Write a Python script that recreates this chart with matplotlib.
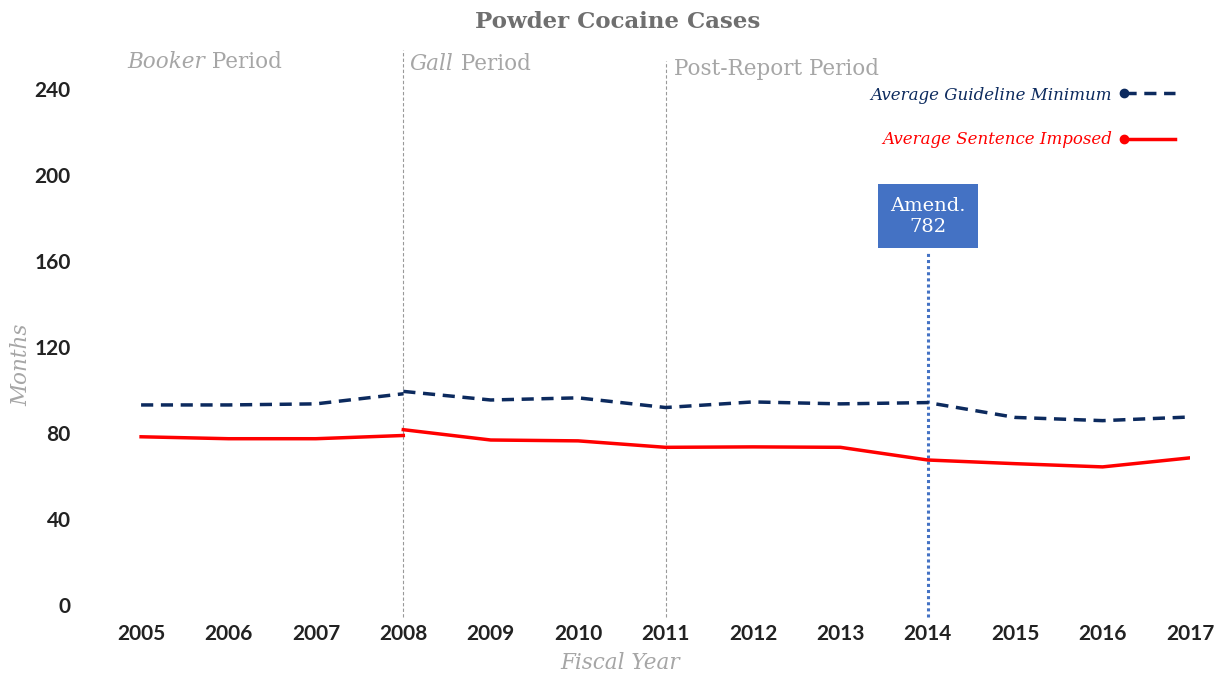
import matplotlib.pyplot as plt

# Fiscal years and values (months), split at period boundaries
years_booker = [2005, 2006, 2007, 2008]
years_rest = [2008, 2009, 2010, 2011, 2012, 2013, 2014, 2015, 2016, 2017]

guideline_booker = [93.0, 93.0, 93.5, 98.2]
guideline_rest = [99.3, 95.3, 96.3, 91.8, 94.4, 93.5, 94.1, 87.2, 85.7, 87.4]

sentence_booker = [78.2, 77.3, 77.3, 78.8]
sentence_rest = [81.5, 76.7, 76.3, 73.3, 73.5, 73.3, 67.4, 65.7, 64.2, 68.4]

year_ticks = list(range(2005, 2018))
month_ticks = [0, 40, 80, 120, 160, 200, 240]

NAVY = '#0c2a5e'
RED = '#ff0000'
GRAY = '#a6a6a6'
SERIF = ['DejaVu Serif']

fig = plt.figure(figsize=(12.2, 6.79), dpi=100)
ax = fig.add_axes([100 / 1220, 74 / 679, 1090 / 1220, 555 / 679])
ax.set_xlim(2004.53, 2017)
ax.set_ylim(0, 258)

for s in ax.spines.values():
    s.set_visible(False)

# period separators
ax.plot([2008, 2008], [-5.5, 258], color='#999999', lw=0.8, ls=(0, (3, 2)), clip_on=False)
ax.plot([2011, 2011], [-5.5, 253], color='#999999', lw=0.8, ls=(0, (3, 2)), clip_on=False)
# amendment marker
ax.plot([2014, 2014], [-5.5, 164], color='#4472c4', lw=2.2, ls=(0, (1, 1)), clip_on=False)

ax.plot(years_booker, guideline_booker, color=NAVY, lw=2.5, ls=(0, (3.5, 2.2)))
ax.plot(years_rest, guideline_rest, color=NAVY, lw=2.5, ls=(0, (3.5, 2.2)))
ax.plot(years_booker, sentence_booker, color=RED, lw=2.5)
ax.plot(years_rest, sentence_rest, color=RED, lw=2.5)

ax.set_xticks(year_ticks)
ax.set_yticks(month_ticks)
ax.tick_params(length=0, labelsize=15, colors='#222222')
for lab in ax.get_xticklabels() + ax.get_yticklabels():
    lab.set_family('Lato')
    lab.set_weight('bold')
ax.tick_params(axis='y', pad=21)
ax.tick_params(axis='x', pad=14)

ax.set_xlabel('Fiscal Year', family=SERIF, style='italic', color=GRAY, fontsize=15.5)
ax.set_ylabel('Months', family=SERIF, style='italic', color=GRAY, fontsize=15.5)
ax.xaxis.set_label_coords((620 - 100) / 1090, (605 - 663) / 555)
ax.yaxis.set_label_coords((21 - 100) / 1090, (605 - 365) / 555)
ax.xaxis.label.set_va('center')
ax.yaxis.label.set_va('center')

fig.text(618 / 1220, 1 - 22 / 679, 'Powder Cocaine Cases', ha='center', va='center',
         family=SERIF, weight='bold', color='#6f6f6f', fontsize=16.5)

# period labels
def period(x, y, name, rest):
    t = fig.text(x / 1220, 1 - y / 679, name, ha='left', va='center', family=SERIF,
                 style='italic', color=GRAY, fontsize=15.5)
    fig.canvas.draw()
    bb = t.get_window_extent()
    fig.text(bb.x1 / 1220, 1 - y / 679, ' ' + rest, ha='left', va='center', family=SERIF,
             color=GRAY, fontsize=15.5)
period(127, 62, 'Booker', 'Period')
period(410, 64, 'Gall', 'Period')
fig.text(674 / 1220, 1 - 69 / 679, 'Post-Report Period', ha='left', va='center', family=SERIF,
         color=GRAY, fontsize=15.5)

# amendment box
ax.text(2014, 180.7, 'Amend.\n782', ha='center', va='center', family=SERIF, color='white',
        fontsize=14, linespacing=1.25,
        bbox=dict(boxstyle='square,pad=0.62', fc='#4472c4', ec='none'))

# legend
fig.text(1112 / 1220, 1 - 95 / 679, 'Average Guideline Minimum', ha='right', va='center',
         family=SERIF, style='italic', color=NAVY, fontsize=12)
fig.text(1112 / 1220, 1 - 139 / 679, 'Average Sentence Imposed', ha='right', va='center',
         family=SERIF, style='italic', color=RED, fontsize=12)
fig.add_artist(plt.Line2D([1124 / 1220, 1175 / 1220], [1 - 93 / 679] * 2, color=NAVY, lw=2.5,
                          ls=(0, (3.5, 2.2))))
fig.add_artist(plt.Line2D([1124 / 1220], [1 - 93 / 679], marker='o', ms=6, color=NAVY))
fig.add_artist(plt.Line2D([1124 / 1220, 1175 / 1220], [1 - 139 / 679] * 2, color=RED, lw=2.5))
fig.add_artist(plt.Line2D([1124 / 1220], [1 - 139 / 679], marker='o', ms=6, color=RED))

fig.savefig('out.png', dpi=100)
